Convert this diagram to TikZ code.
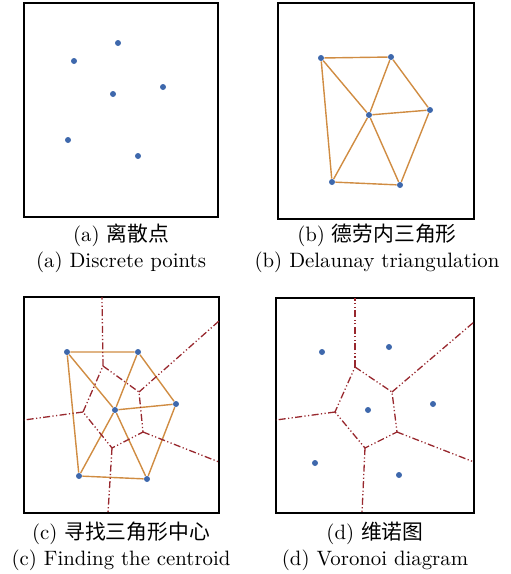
\documentclass[tikz,border=0pt]{standalone}
\usepackage{fontspec}
\newfontfamily\cjk{Noto Sans CJK SC}
\usepackage{xcolor}
\usepackage{tikz}
\usetikzlibrary{positioning, calc}

\definecolor{siteblue}{RGB}{62,104,172}
\definecolor{triorange}{RGB}{208,140,66}
\definecolor{vorred}{RGB}{152,40,46}

\tikzset{
  frame/.style={draw=black, line width=1pt},
  site/.style={circle, fill=siteblue, inner sep=0pt, minimum size=3pt},
  tri/.style={draw=triorange, line width=0.7pt},
  vor/.style={draw=vorred, line width=0.65pt,
    dash pattern=on 3.5pt off 1.2pt on 0.6pt off 1.2pt on 0.6pt off 1.2pt},
  caption/.style={font=\fontsize{10.4}{12}\selectfont, inner sep=0pt}
}

\begin{document}
\begin{tikzpicture}[x=0.5pt, y=-0.5pt]
    \useasboundingbox (0,0) rectangle (510,574);

    % (a) discrete points
    \draw[frame] (24,3) rectangle (218,217);
    \node[site] (a1) at (118,43) {};
    \node[site] (a2) at (74,61) {};
    \node[site] (a3) at (163,87) {};
    \node[site] (a4) at (113,94) {};
    \node[site] (a5) at (68,140) {};
    \node[site] (a6) at (138,156) {};
    \node[caption] (capa1) at (121,235) {(a) {\cjk 离散点}};
    \node[caption] (capa2) at (121,262) {(a) Discrete points};

    % (b) triangulation
    \draw[frame] (278,3) rectangle (474,219);
    \node[site] (b1) at (321,58) {};
    \node[site] (b2) at (391,57) {};
    \node[site] (b3) at (430,110) {};
    \node[site] (b4) at (369,115) {};
    \node[site] (b5) at (332,182) {};
    \node[site] (b6) at (400,185) {};
    \draw[tri] (b1) -- (b2) -- (b3) -- (b6) -- (b5) -- (b1);
    \draw[tri] (b1) -- (b4) -- (b2);
    \draw[tri] (b3) -- (b4) -- (b5);
    \draw[tri] (b4) -- (b6);
    \node[caption] (capb1) at (377,235) {(b) {\cjk 德劳内三角形}};
    \node[caption] (capb2) at (377,262) {(b) Delaunay triangulation};

    % (c) centroids
    \draw[frame] (24,297) rectangle (219,513);
    \node[site] (c1) at (67,352) {};
    \node[site] (c2) at (138,352) {};
    \node[site] (c3) at (176,404) {};
    \node[site] (c4) at (115,410) {};
    \node[site] (c5) at (79,476) {};
    \node[site] (c6) at (147,479) {};
    \draw[tri] (c1) -- (c2) -- (c3) -- (c6) -- (c5) -- (c1);
    \draw[tri] (c1) -- (c4) -- (c2);
    \draw[tri] (c3) -- (c4) -- (c5);
    \draw[tri] (c4) -- (c6);
    \coordinate (cv1) at (103,366);
    \coordinate (cv2) at (139,392);
    \coordinate (cv3) at (143,432);
    \coordinate (cv4) at (112,448);
    \coordinate (cv5) at (83,412);
    \coordinate (cr1) at (102,297);
    \coordinate (cr2) at (219,321);
    \coordinate (cr3) at (219,462);
    \coordinate (cr4) at (108,513);
    \coordinate (cr5) at (24,420);
    \draw[vor] (cv1) -- (cv2) -- (cv3) -- (cv4) -- (cv5) -- cycle;
    \draw[vor] (cv1) -- (cr1);
    \draw[vor] (cv2) -- (cr2);
    \draw[vor] (cv3) -- (cr3);
    \draw[vor] (cv4) -- (cr4);
    \draw[vor] (cv5) -- (cr5);
    \node[caption] (capc1) at (121,533) {(c) {\cjk 寻找三角形中心}};
    \node[caption] (capc2) at (121,560) {(c) Finding the centroid};

    % (d) voronoi
    \draw[frame] (276,298) rectangle (474,513);
    \node[site] (d1) at (322,352) {};
    \node[site] (d2) at (389,347) {};
    \node[site] (d3) at (433,404) {};
    \node[site] (d4) at (368,410) {};
    \node[site] (d5) at (315,463) {};
    \node[site] (d6) at (399,475) {};
    \coordinate (dv1) at (355,367);
    \coordinate (dv2) at (392,392);
    \coordinate (dv3) at (397,432);
    \coordinate (dv4) at (365,448);
    \coordinate (dv5) at (335,412);
    \coordinate (dr1) at (355,298);
    \coordinate (dr2) at (474,322);
    \coordinate (dr3) at (474,462);
    \coordinate (dr4) at (362,513);
    \coordinate (dr5) at (276,420);
    \draw[vor] (dv1) -- (dv2) -- (dv3) -- (dv4) -- (dv5) -- cycle;
    \draw[vor] (dv1) -- (dr1);
    \draw[vor] (dv2) -- (dr2);
    \draw[vor] (dv3) -- (dr3);
    \draw[vor] (dv4) -- (dr4);
    \draw[vor] (dv5) -- (dr5);
    \node[caption] (capd1) at (375,533) {(d) {\cjk 维诺图}};
    \node[caption] (capd2) at (375,560) {(d) Voronoi diagram};
\end{tikzpicture}
\end{document}
